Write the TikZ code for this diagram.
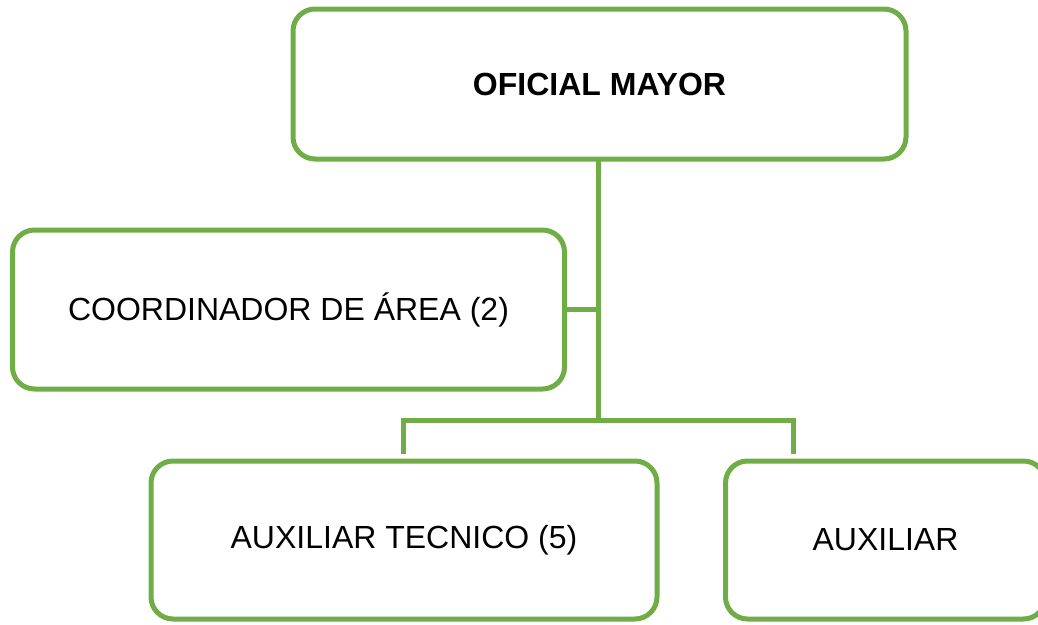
\documentclass[tikz,border=0pt]{standalone}
\usepackage{fontspec}
\setmainfont{Liberation Sans}
\definecolor{orggreen}{HTML}{70AD47}
\begin{document}
\begin{tikzpicture}[x=1pt,y=-1pt,
  orgbox/.style={draw=orggreen, line width=5pt, rounded corners=22pt, fill=white,
    rectangle, outer sep=0pt, inner sep=0pt, font=\fontsize{32}{38}\selectfont, text=black},
  link/.style={draw=orggreen, line width=5pt, line join=miter}]
\useasboundingbox (0,0) rectangle (1038,624);
\clip (0,0) rectangle (1038,624);
\node[orgbox, minimum width=613pt, minimum height=150pt] (top) at (599.5,84) {\textbf{OFICIAL MAYOR}};
\node[orgbox, minimum width=552pt, minimum height=159pt] (coord) at (288.5,309.5) {COORDINADOR DE ÁREA (2)};
\node[orgbox, minimum width=506pt, minimum height=158pt] (auxtec) at (404,540) {AUXILIAR TECNICO (5)};
\node[orgbox, minimum width=320pt, minimum height=158pt] (aux) at (885.5,540) {AUXILIAR};
\coordinate (j1) at (598,420);
\coordinate (l1) at (403,420);
\coordinate (r1) at (793,420);
\coordinate (l2) at (403,454);
\coordinate (r2) at (793,454);
\draw[link] (top.south -| j1) -- (j1);
\draw[link] (coord.east) -- (coord.east -| j1);
\draw[link] (l2) -- (l1) -- (r1) -- (r2);
\end{tikzpicture}
\end{document}
